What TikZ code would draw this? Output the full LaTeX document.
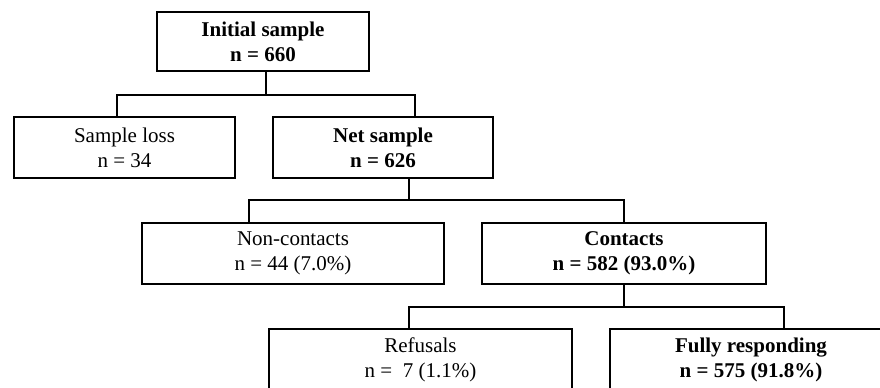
\documentclass[tikz,border=0pt]{standalone}
\usepackage{fontspec}
\setmainfont{Liberation Serif}
\begin{document}
\begin{tikzpicture}[x=0.5pt, y=-0.5pt,
    box/.style={draw, black, line width=1pt, align=center, inner sep=0pt,
      minimum height=30.5pt, font=\fontsize{10.5}{12.5}\selectfont},
    link/.style={black, line width=1pt}]
  \useasboundingbox (0,0) rectangle (880,387);
  \clip (0,0) rectangle (880,387);
  % boxes
  \node[box, minimum width=106pt, minimum height=29.5pt] (init) at (263,41.5) {\textbf{Initial sample}\\\textbf{n = 660}};
  \node[box, minimum width=110.5pt] (loss) at (124.5,147.5) {Sample loss\\n = 34};
  \node[box, minimum width=110pt] (net) at (383,147.5) {\textbf{Net sample}\\\textbf{n = 626}};
  \node[box, minimum width=151pt] (noncont) at (293,253.5) {Non-contacts\\n = 44 (7.0\%)};
  \node[box, minimum width=142pt] (cont) at (624,253.5) {\textbf{Contacts}\\\textbf{n = 582 (93.0\%)}};
  \node[box, minimum width=151.5pt] (refus) at (420.5,359.5) {Refusals\\n = \ 7 (1.1\%)};
  \node[box, minimum width=141pt] (fully) at (751,359.5) {\textbf{Fully responding}\\\textbf{n = 575 (91.8\%)}};
  % forks
  \coordinate (f1) at (266,95);
  \coordinate (f1l) at (117,95);
  \coordinate (f1r) at (415,95);
  \coordinate (f2) at (409,200);
  \coordinate (f2l) at (249,200);
  \coordinate (f2r) at (624,200);
  \coordinate (f3) at (624,307);
  \coordinate (f3l) at (409,307);
  \coordinate (f3r) at (784,307);
  \draw[link] (init.south -| f1) -- (f1);
  \draw[link] (loss.north -| f1l) |- (f1r) -- (net.north -| f1r);
  \draw[link] (net.south -| f2) -- (f2);
  \draw[link] (noncont.north -| f2l) |- (f2r) -- (cont.north -| f2r);
  \draw[link] (cont.south -| f3) -- (f3);
  \draw[link] (refus.north -| f3l) |- (f3r) -- (fully.north -| f3r);
\end{tikzpicture}
\end{document}
